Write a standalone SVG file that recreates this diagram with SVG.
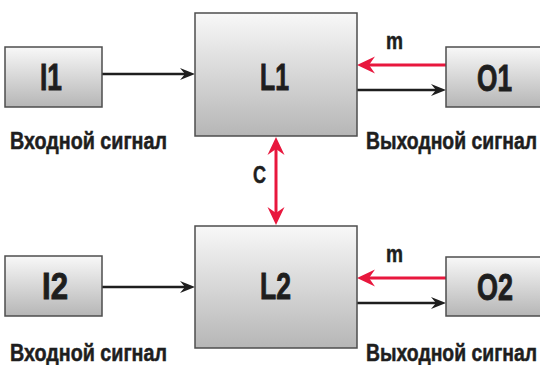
<svg xmlns="http://www.w3.org/2000/svg" width="540" height="365" viewBox="0 0 540 365">
<style>
.box{fill:url(#g);stroke:#4d4d4d;stroke-width:1.5}
.big{font-family:"Liberation Sans",Arial,sans-serif;font-weight:bold;font-size:37px;fill:#1e1e1e;stroke:#1e1e1e;stroke-width:0.9}
.lbl{font-family:"Liberation Sans",Arial,sans-serif;font-weight:bold;font-size:23px;fill:#1e1e1e;stroke:#1e1e1e;stroke-width:0.5}
.blk{stroke:#1e1e1e;stroke-width:2.5;fill:none;marker-end:url(#ab)}
.red{stroke:#e8173d;stroke-width:3;fill:none;marker-end:url(#ar)}
</style>
<defs>
<linearGradient id="g" x1="0" y1="0" x2="0" y2="1">
<stop offset="0" stop-color="#f8f8f8"/>
<stop offset="1" stop-color="#b6b6b6"/>
</linearGradient>
<marker id="ab" viewBox="-6 -7 17 14" refX="0" refY="0" markerWidth="17" markerHeight="14" markerUnits="userSpaceOnUse" orient="auto">
<path d="M10,0 L-5,-6 L0,0 L-5,6 Z" fill="#1e1e1e"/>
</marker>
<marker id="ar" viewBox="-7 -9 20 18" refX="0" refY="0" markerWidth="20" markerHeight="18" markerUnits="userSpaceOnUse" orient="auto-start-reverse">
<path d="M12,0 L-6,-8.5 L0,0 L-6,8.5 Z" fill="#e8173d"/>
</marker>
</defs>

<g id="connectors">
<line class="blk" x1="102" y1="74" x2="185" y2="74"/>
<line class="red" x1="446" y1="65" x2="369" y2="65"/>
<line class="blk" x1="357" y1="90" x2="436" y2="90"/>
<line class="blk" x1="102" y1="287" x2="185" y2="287"/>
<line class="red" x1="446" y1="278" x2="369" y2="278"/>
<line class="blk" x1="357" y1="303" x2="436" y2="303"/>
<line class="red" x1="276" y1="149" x2="276" y2="213" marker-start="url(#ar)"/>
<text class="lbl" x="386" y="49" textLength="17" lengthAdjust="spacingAndGlyphs">m</text>
<text class="lbl" x="386" y="262" textLength="17" lengthAdjust="spacingAndGlyphs">m</text>
<text class="lbl" x="253" y="183" textLength="13" lengthAdjust="spacingAndGlyphs">C</text>
</g>

<g id="I1">
<rect class="box" x="5" y="47" width="97" height="60"/>
<text class="big" x="40" y="90" textLength="22" lengthAdjust="spacingAndGlyphs">I1</text>
<text class="lbl" x="10" y="149" textLength="157" lengthAdjust="spacingAndGlyphs">Входной сигнал</text>
</g>
<g id="L1">
<rect class="box" x="195" y="13" width="162" height="123"/>
<text class="big" x="260" y="90" textLength="29" lengthAdjust="spacingAndGlyphs">L1</text>
</g>
<g id="O1">
<rect class="box" x="446" y="47" width="97" height="60"/>
<text class="big" x="477" y="91" textLength="35" lengthAdjust="spacingAndGlyphs">O1</text>
<text class="lbl" x="366" y="149" textLength="171" lengthAdjust="spacingAndGlyphs">Выходной сигнал</text>
</g>
<g id="I2">
<rect class="box" x="5" y="256" width="97" height="60"/>
<text class="big" x="42" y="299" textLength="26" lengthAdjust="spacingAndGlyphs">I2</text>
<text class="lbl" x="10" y="361" textLength="157" lengthAdjust="spacingAndGlyphs">Входной сигнал</text>
</g>
<g id="L2">
<rect class="box" x="195" y="226" width="162" height="122"/>
<text class="big" x="260" y="299" textLength="31" lengthAdjust="spacingAndGlyphs">L2</text>
</g>
<g id="O2">
<rect class="box" x="446" y="257" width="97" height="59"/>
<text class="big" x="477" y="300" textLength="36" lengthAdjust="spacingAndGlyphs">O2</text>
<text class="lbl" x="366" y="361" textLength="171" lengthAdjust="spacingAndGlyphs">Выходной сигнал</text>
</g>
</svg>
